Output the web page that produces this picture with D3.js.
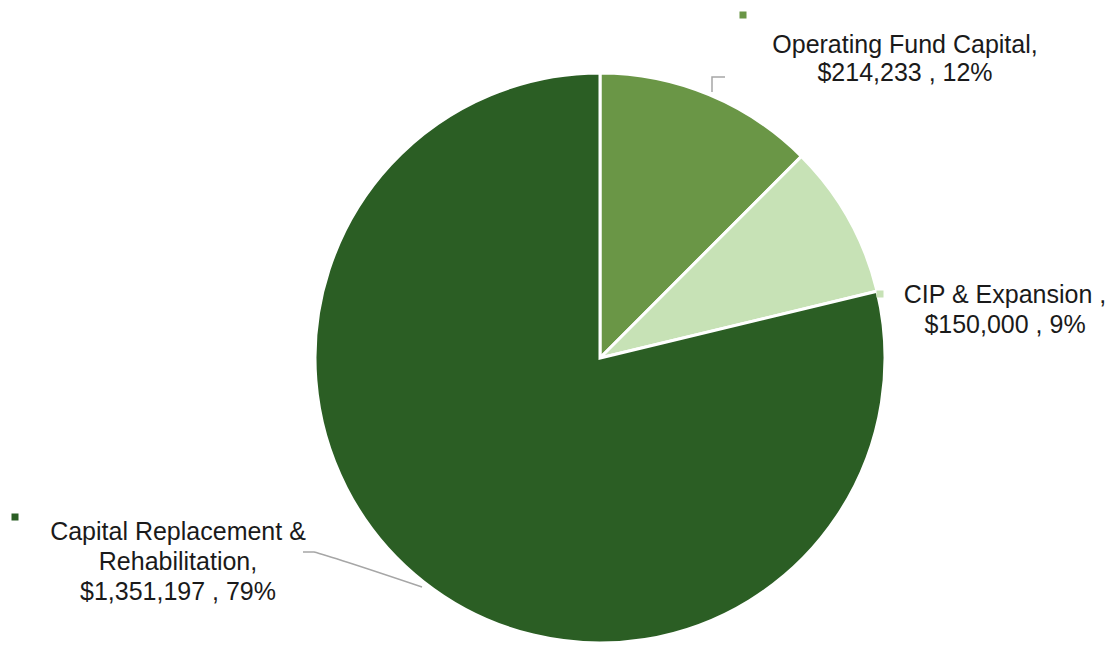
<!DOCTYPE html>
<meta charset="utf-8">
<style>
body { margin: 0; background: #fff; }
.label { font-family: "Liberation Sans", Arial, sans-serif; font-size: 25px; fill: #1a1a1a; }
.leader { fill: none; stroke: #a6a6a6; stroke-width: 1.5px; }
</style>
<svg width="1109" height="645"></svg>
<script src="https://d3js.org/d3.v7.min.js"></script>
<script>
// data
var categories = ["Operating Fund Capital", "CIP & Expansion ", "Capital Replacement & Rehabilitation"];
var values = [214233, 150000, 1351197];
var colors = ["#6a9646", "#c7e2b6", "#2b5e24"];

var svg = d3.select("svg"),
    width = +svg.attr("width"),
    height = +svg.attr("height");

var cx = 600, cy = 358, R = 285;

var total = d3.sum(values);
var money = d3.format("$,"),
    pct = d3.format(".0%");

var data = categories.map(function(c, i) { return {name: c, value: values[i], color: colors[i]}; });

var pie = d3.pie().sort(null).value(function(d) { return d.value; });
var arc = d3.arc().innerRadius(0).outerRadius(R);

var g = svg.append("g").attr("transform", "translate(" + cx + "," + cy + ")");

g.selectAll(".slice")
    .data(pie(data))
    .enter().append("path")
    .attr("class", "slice")
    .attr("d", arc)
    .attr("fill", function(d) { return d.data.color; })
    .attr("stroke", "#fff")
    .attr("stroke-width", 3)
    .attr("stroke-linejoin", "miter");

// label layout (line texts split by hand, like the original)
var labels = [
  {lines: ["Operating Fund Capital,", money(values[0]) + " , " + pct(values[0] / total)],
   x: 905, y: 53, dy: 28, mx: 743, my: 15},
  {lines: [categories[1] + ",", money(values[1]) + " , " + pct(values[1] / total)],
   x: 1005, y: 303, dy: 30, mx: 880, my: 294},
  {lines: ["Capital Replacement &", "Rehabilitation,", money(values[2]) + " , " + pct(values[2] / total)],
   x: 178, y: 540, dy: 30, mx: 15, my: 517}
];

labels.forEach(function(l, i) {
  var t = svg.append("text")
      .attr("class", "label")
      .attr("text-anchor", "middle");
  l.lines.forEach(function(s, j) {
    t.append("tspan").attr("x", l.x).attr("y", l.y + j * l.dy).text(s);
  });
  svg.append("rect")
      .attr("x", l.mx - 3.5).attr("y", l.my - 3.5)
      .attr("width", 7).attr("height", 7)
      .attr("fill", colors[i]);
});

// leader lines
svg.append("path").attr("class", "leader")
    .attr("d", "M725,77 L712,77 L712,92");
svg.append("path").attr("class", "leader")
    .attr("d", "M303,552 L314,552 Q330,556 422,587");
</script>
